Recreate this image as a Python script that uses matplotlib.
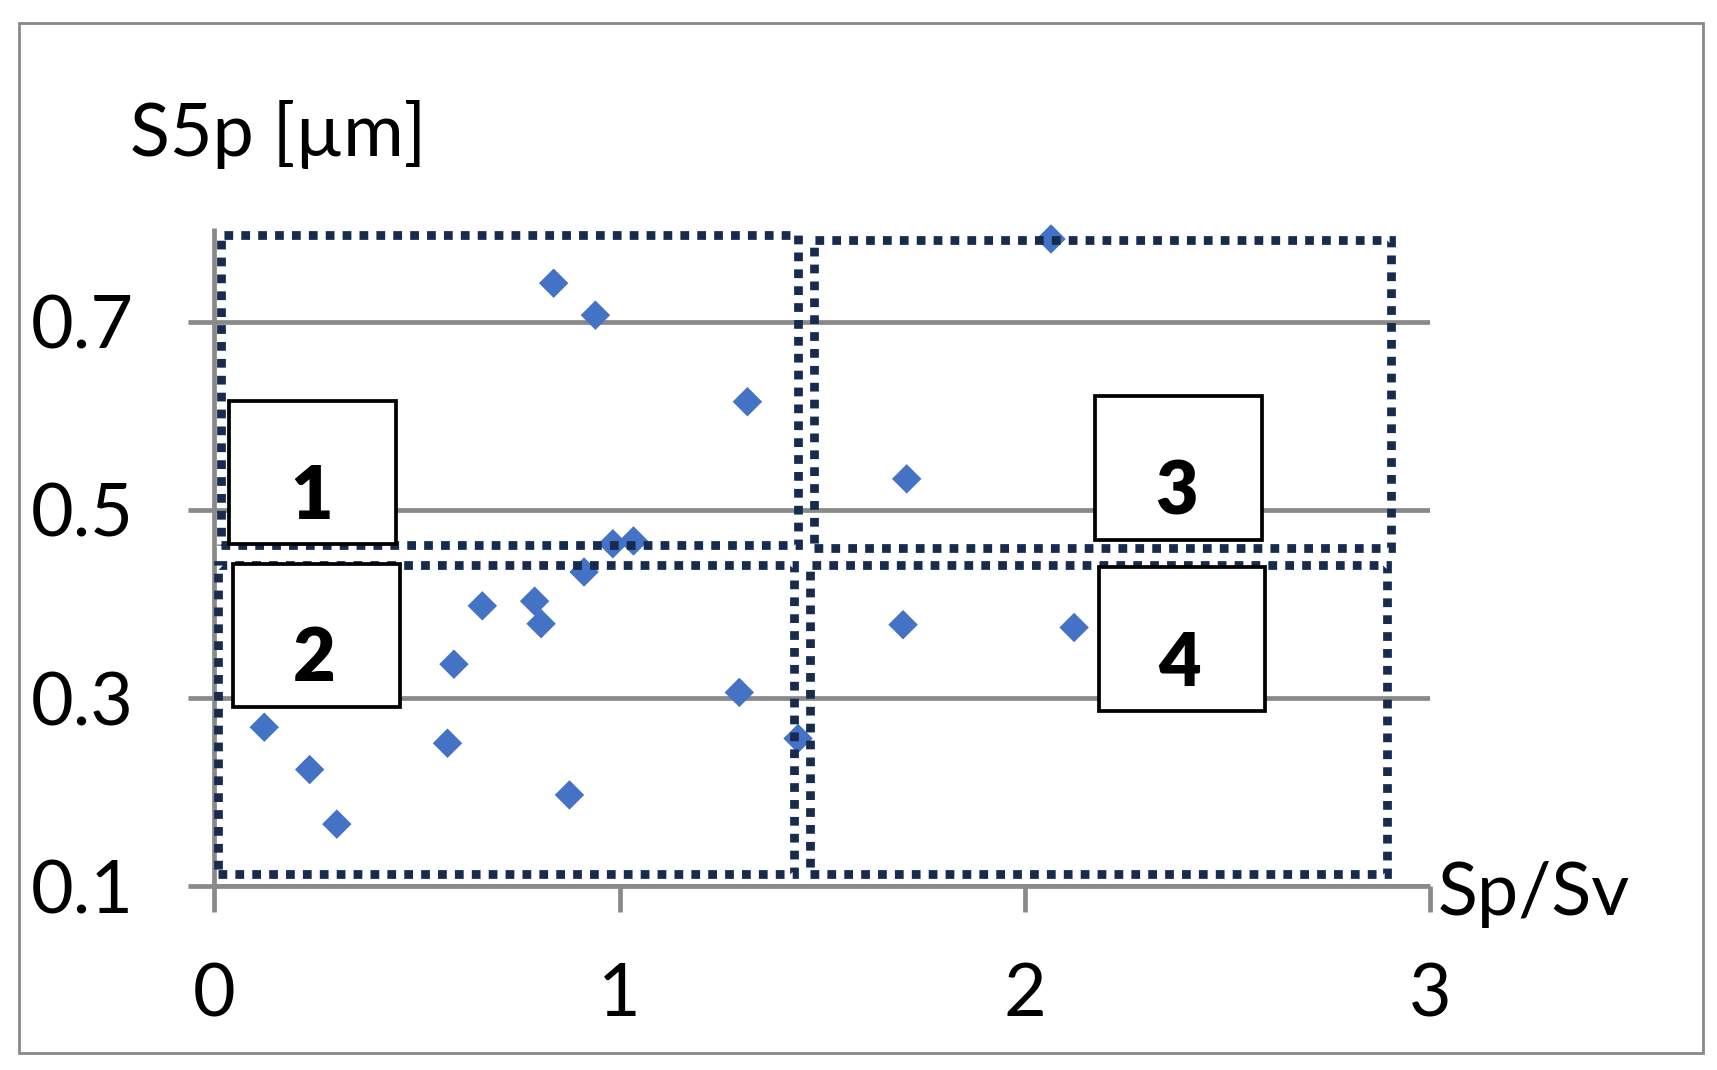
import matplotlib
matplotlib.use("Agg")
import matplotlib.pyplot as plt
from matplotlib.patches import Rectangle

# ---- data ----
sp_sv = [0.837, 0.940, 1.315, 0.983, 1.034, 0.912, 0.661, 0.790, 0.806, 0.591,
         1.295, 0.123, 0.575, 1.440, 0.235, 0.876, 0.302, 2.064, 1.708, 1.699, 2.121]
s5p = [0.741, 0.707, 0.615, 0.464, 0.467, 0.434, 0.398, 0.403, 0.379, 0.336,
       0.306, 0.269, 0.252, 0.257, 0.224, 0.197, 0.166, 0.788, 0.533, 0.378, 0.375]

x_ticks = [0, 1, 2, 3]
x_tick_labels = ["0", "1", "2", "3"]
y_ticks = [0.1, 0.3, 0.5, 0.7]
y_tick_labels = ["0.1", "0.3", "0.5", "0.7"]
x_label = "Sp/Sv"
y_label = "S5p [µm]"

# region outlines (x0, x1, y0, y1)
region_x0 = [0.017, 0.008, 1.480, 1.469]
region_x1 = [1.441, 1.431, 2.904, 2.893]
region_y0 = [0.463, 0.113, 0.459, 0.113]
region_y1 = [0.792, 0.441, 0.787, 0.441]

# region number boxes
region_names = ["1", "2", "3", "4"]
box_x0 = [0.035, 0.045, 2.173, 2.182]
box_x1 = [0.448, 0.457, 2.584, 2.593]
box_y0 = [0.464, 0.290, 0.468, 0.286]
box_y1 = [0.616, 0.443, 0.621, 0.439]
name_x = [0.239, 0.246, 2.373, 2.382]
name_y = [0.490, 0.318, 0.495, 0.313]

# ---- style ----
FONT = "Lato"
GRAY = "#898989"
NAVY = "#172b50"
BLUE = "#4472C4"
plt.rcParams["font.family"] = [FONT, "DejaVu Sans"]

fig = plt.figure(figsize=(17.17, 10.70), dpi=100)
fig.patch.set_facecolor("white")
fig.patches.append(Rectangle((0.01124, 0.0156), 0.992 - 0.01124, 0.9788 - 0.0156,
                             transform=fig.transFigure, fill=False,
                             edgecolor=GRAY, linewidth=2.0, zorder=0))

ax = fig.add_axes([0.12487, 0.17178, 0.70821, 0.61542])
ax.set_xlim(0, 3)
ax.set_ylim(0.1, 0.8)
ax.set_facecolor("none")

LW = 3.4
for s in ["top", "right"]:
    ax.spines[s].set_visible(False)
for s in ["left", "bottom"]:
    ax.spines[s].set_color(GRAY)
    ax.spines[s].set_linewidth(LW)
    ax.spines[s].set_capstyle("butt")

ax.set_xticks(x_ticks)
ax.set_xticklabels(x_tick_labels)
ax.set_yticks(y_ticks)
ax.set_yticklabels(y_tick_labels)
ax.tick_params(axis="both", direction="out", length=18.7, width=LW, color=GRAY,
               labelsize=53, labelcolor="black")
ax.tick_params(axis="y", pad=39.5)
ax.tick_params(axis="x", pad=36)
ax.yaxis.grid(True, color=GRAY, linewidth=LW, zorder=0)
ax.set_axisbelow(True)

ax.scatter(sp_sv, s5p, marker="D", s=15 ** 2, color=BLUE, edgecolors="none",
           zorder=3, clip_on=False)

for x0, x1, y0, y1 in zip(region_x0, region_x1, region_y0, region_y1):
    ax.add_patch(Rectangle((x0, y0), x1 - x0, y1 - y0, fill=False, edgecolor=NAVY,
                           linewidth=6.3, linestyle=(0, (1, 0.93)), zorder=4,
                           clip_on=False))

for nm, bx0, bx1, by0, by1, tx, ty in zip(region_names, box_x0, box_x1, box_y0,
                                          box_y1, name_x, name_y):
    ax.add_patch(Rectangle((bx0, by0), bx1 - bx0, by1 - by0, facecolor="white",
                           edgecolor="black", linewidth=2.7, zorder=5, clip_on=False))
    ax.text(tx, ty, nm, fontsize=53, fontweight="heavy", ha="center", va="baseline",
            zorder=6, color="black")

ax.text(1.006, -0.0437, x_label, transform=ax.transAxes, fontsize=53,
        ha="left", va="baseline", color="black")
ax.text(-0.0694, 1.1091, y_label, transform=ax.transAxes, fontsize=53,
        ha="left", va="baseline", color="black")

fig.savefig("out.png", dpi=100, facecolor="white")
